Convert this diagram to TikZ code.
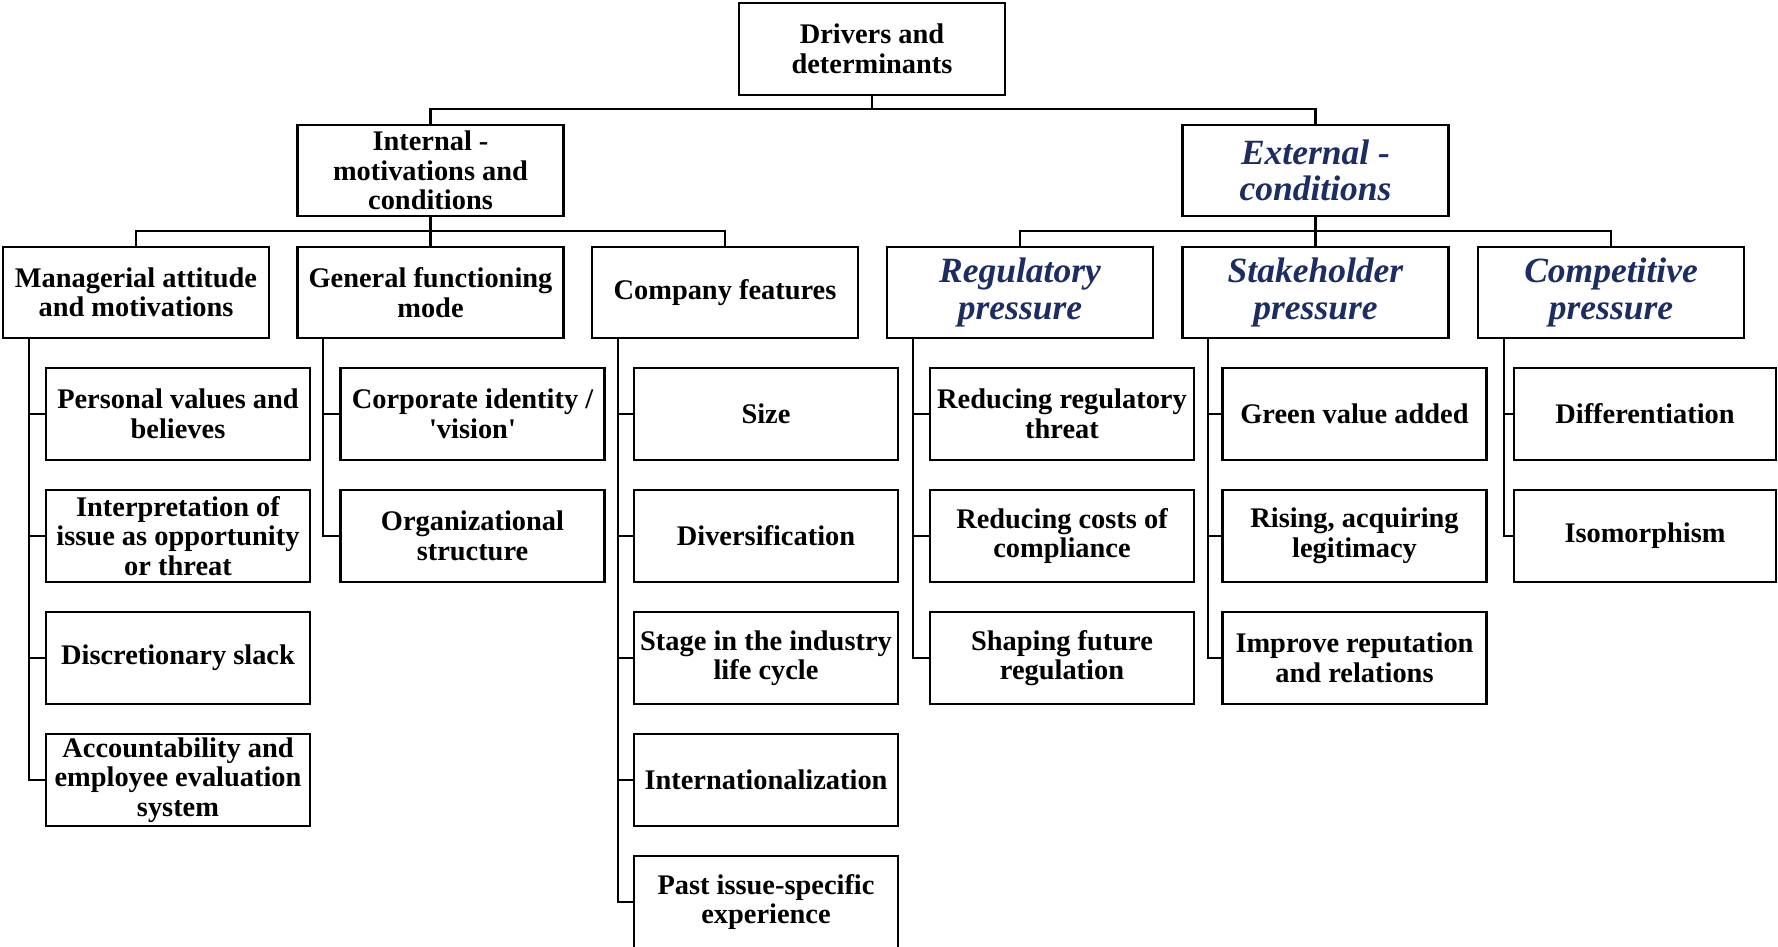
\documentclass[tikz,border=0pt]{standalone}
\usepackage{fontspec}
\setmainfont[Ligatures=TeXOff]{Liberation Serif}
\definecolor{navy}{RGB}{28,45,100}
\begin{document}
\begin{tikzpicture}[x=1pt,y=-1pt,
  box/.style={draw=black,line width=2.6pt,inner sep=0pt,align=center,
    font=\bfseries\fontsize{28.4}{29.5}\selectfont},
  bigbox/.style={box,minimum width=266pt,minimum height=91pt},
  kid/.style={box,minimum width=264pt,minimum height=92pt},
  ext/.style={font=\bfseries\itshape\fontsize{35.5}{36.5}\selectfont,text=navy},
  link/.style={draw=black,line width=2.2pt}]
\useasboundingbox (0,0) rectangle (1778,947);
% top levels
\node[bigbox,minimum height=92pt] (root) at (872,49) {Drivers and\\determinants};
\node[bigbox] (int) at (430.5,170.5) {Internal -\\motivations and\\conditions};
\node[bigbox,ext] (ext) at (1315.5,170.5) {External -\\conditions};
% level 2
\node[bigbox] (mg) at (136,292.5) {Managerial attitude\\and motivations};
\node[bigbox] (gf) at (430.5,292.5) {General functioning\\mode};
\node[bigbox] (cf) at (725,292.5) {Company features};
\node[bigbox,ext] (rp) at (1020,292.5) {Regulatory\\pressure};
\node[bigbox,ext] (sp) at (1315.5,292.5) {Stakeholder\\pressure};
\node[bigbox,ext] (cp) at (1611,292.5) {Competitive\\pressure};
% children
\node[kid] (mg1) at (178,414) {Personal values and\\believes};
\node[kid] (mg2) at (178,536) {Interpretation of\\issue as opportunity\\or threat};
\node[kid] (mg3) at (178,658) {Discretionary slack};
\node[kid] (mg4) at (178,780) {Accountability and\\employee evaluation\\system};
\node[kid] (gf1) at (472.5,414) {Corporate identity /\\'vision'};
\node[kid] (gf2) at (472.5,536) {Organizational\\structure};
\node[kid] (cf1) at (766,414) {Size};
\node[kid] (cf2) at (766,536) {Diversification};
\node[kid] (cf3) at (766,658) {Stage in the industry\\life cycle};
\node[kid] (cf4) at (766,780) {Internationalization};
\node[kid] (cf5) at (766,902) {Past issue-specific\\experience};
\node[kid] (rp1) at (1062,414) {Reducing regulatory\\threat};
\node[kid] (rp2) at (1062,536) {Reducing costs of\\compliance};
\node[kid] (rp3) at (1062,658) {Shaping future\\regulation};
\node[kid] (sp1) at (1354.5,414) {Green value added};
\node[kid] (sp2) at (1354.5,536) {Rising, acquiring\\legitimacy};
\node[kid] (sp3) at (1354.5,658) {Improve reputation\\and relations};
\node[kid,minimum width=262pt] (cp1) at (1645,414) {Differentiation};
\node[kid,minimum width=262pt] (cp2) at (1645,536) {Isomorphism};
% junctions
\coordinate (j0) at (872,109);
\coordinate (j1) at (430.5,231);
\coordinate (j2) at (1315.5,231);
\draw[link] (root.south) -- (j0);
\draw[link] (int.north) |- (j0) -| (ext.north);
\draw[link] (int.south) -- (gf.north);
\draw[link] (mg.north) |- (j1) -| (cf.north);
\draw[link] (ext.south) -- (sp.north);
\draw[link] (rp.north) |- (j2) -| (cp.north);
% spines
\foreach \p/\k in {mg/mg1,mg/mg2,mg/mg3,mg/mg4,gf/gf1,gf/gf2,cf/cf1,cf/cf2,cf/cf3,cf/cf4,cf/cf5,rp/rp1,rp/rp2,rp/rp3,sp/sp1,sp/sp2,sp/sp3,cp/cp1,cp/cp2}
  \draw[link] ([xshift=27pt]\p.south west) |- (\k.west);
\end{tikzpicture}
\end{document}
